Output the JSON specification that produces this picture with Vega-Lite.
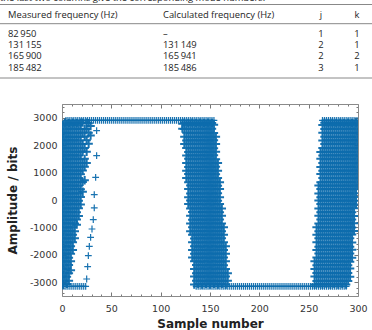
{
  "$schema": "https://vega.github.io/schema/vega-lite/v6.json",
  "width": 296,
  "height": 192,
  "autosize": {"type": "none"},
  "padding": {"left": 62, "top": 104, "right": 14, "bottom": 34},
  "background": "white",
  "config": {"view": {"stroke": null}},
  "resolve": {"scale": {"x": "independent", "y": "independent"}, "axis": {"x": "independent", "y": "independent"}},
  "layer": [
    {
      "resolve": {"axis": {"x": "independent", "y": "independent"}},
      "layer": [
        {
          "data": {"values": [
            {"x": 1, "y": [-3080,-2790,-2520,-2230,-1960,-1690,-1400,-1130,-850,-580,-300,-30,250,520,800,1070,1350,1620,1900,2170,2450,2730]},
            {"x": 3, "y": [-2950,-2660,-2380,-2100,-1820,-1540,-1270,-990,-720,-440,-160,110,390,660,940,1210,1490,1760,2040,2310,2590,2820]},
            {"x": 5, "y": [-3060,-2800,-2500,-2250,-1950,-1700,-1390,-1140,-860,-570,-310,-20,240,530,790,1080,1340,1630,1890,2180,2440,2740]},
            {"x": 7, "y": [-2940,-2670,-2370,-2110,-1810,-1550,-1260,-1000,-710,-450,-150,100,400,650,950,1200,1500,1750,2050,2300,2600,2810]},
            {"x": 9, "y": [-2560,-2230,-1960,-1690,-1400,-1130,-850,-580,-300,-30,250,520,800,1070,1350,1620,1900,2170,2450,2730]},
            {"x": 11, "y": [-1820,-1540,-1270,-990,-720,-440,-160,110,390,660,940,1210,1490,1760,2040,2310,2590,2820]},
            {"x": 13, "y": [-1390,-1140,-860,-570,-310,-20,240,530,790,1080,1340,1630,1890,2180,2440,2740]},
            {"x": 15, "y": [-900,-710,-450,-150,100,400,650,950,1200,1500,1750,2050,2300,2600,2810]},
            {"x": 17, "y": [-580,-300,-30,250,520,800,1070,1350,1620,1900,2170,2450,2730]},
            {"x": 19, "y": [-160,110,390,660,940,1210,1490,1760,2040,2310,2590,2820]},
            {"x": 21, "y": [300,660,1080,1350,1760,2040,2450,2820]},
            {"x": 23, "y": [720,1210,1500,1900,2310,2600]},
            {"x": 25, "y": [1350,1760,2180,2590,2820]},
            {"x": 27, "y": [2050,2450,2800]},
            {"x": 29, "y": [2350,2700]},
            {"x": 122, "y": [2600,2780]},
            {"x": 124, "y": [2040,2310,2590,2820]},
            {"x": 126, "y": [800,1070,1350,1620,1900,2170,2450,2730]},
            {"x": 128, "y": [-150,100,400,650,950,1200,1500,1750,2050,2300,2600,2810]},
            {"x": 130, "y": [-1140,-860,-570,-310,-20,240,530,790,1080,1340,1630,1890,2180,2440,2740]},
            {"x": 132, "y": [-2100,-1820,-1540,-1270,-990,-720,-440,-160,110,390,660,940,1210,1490,1760,2040,2310,2590,2820]},
            {"x": 134, "y": [-3080,-2790,-2520,-2230,-1960,-1690,-1400,-1130,-850,-580,-300,-30,250,520,800,1070,1350,1620,1900,2170,2450,2730]},
            {"x": 136, "y": [-2940,-2670,-2370,-2110,-1810,-1550,-1260,-1000,-710,-450,-150,100,400,650,950,1200,1500,1750,2050,2300,2600,2810]},
            {"x": 138, "y": [-3060,-2800,-2500,-2250,-1950,-1700,-1390,-1140,-860,-570,-310,-20,240,530,790,1080,1340,1630,1890,2180,2440,2740]},
            {"x": 140, "y": [-2950,-2660,-2380,-2100,-1820,-1540,-1270,-990,-720,-440,-160,110,390,660,940,1210,1490,1760,2040,2310,2590,2820]},
            {"x": 142, "y": [-3080,-2790,-2520,-2230,-1960,-1690,-1400,-1130,-850,-580,-300,-30,250,520,800,1070,1350,1620,1900,2170,2450,2730]},
            {"x": 144, "y": [-2940,-2670,-2370,-2110,-1810,-1550,-1260,-1000,-710,-450,-150,100,400,650,950,1200,1500,1750,2050,2300,2600,2810]},
            {"x": 146, "y": [-3060,-2800,-2500,-2250,-1950,-1700,-1390,-1140,-860,-570,-310,-20,240,530,790,1080,1340,1630,1890,2180,2440,2740]},
            {"x": 148, "y": [-2950,-2660,-2380,-2100,-1820,-1540,-1270,-990,-720,-440,-160,110,390,660,940,1210,1490,1760,2040,2310,2590,2820]},
            {"x": 150, "y": [-3080,-2790,-2520,-2230,-1960,-1690,-1400,-1130,-850,-580,-300,-30,250,520,800,1070,1350,1620,1900,2170,2450,2730]},
            {"x": 152, "y": [-2940,-2670,-2370,-2110,-1810,-1550,-1260,-1000,-710,-450,-150,100,400,650,950,1200,1500,1750,2050,2300,2600,2810]},
            {"x": 154, "y": [-3060,-2800,-2500,-2250,-1950,-1700,-1390,-1140,-860,-570,-310,-20,240,530,790,1080,1340,1630,1890,2180,2440,2740]},
            {"x": 156, "y": [-2950,-2660,-2380,-2100,-1820,-1540,-1270,-990,-720,-440,-160,110,390,660,940,1210,1490,1760,2040,2310]},
            {"x": 158, "y": [-3080,-2790,-2520,-2230,-1960,-1690,-1400,-1130,-850,-580,-300,-30,250,520,800,1070,1350]},
            {"x": 160, "y": [-2940,-2670,-2370,-2110,-1810,-1550,-1260,-1000,-710,-450,-150,100,400,650]},
            {"x": 162, "y": [-3060,-2800,-2500,-2250,-1950,-1700,-1390,-1140,-860,-570,-310]},
            {"x": 164, "y": [-2950,-2660,-2380,-2100,-1820,-1540,-1270,-990]},
            {"x": 166, "y": [-3080,-2790,-2520,-2230,-1960,-1690]},
            {"x": 168, "y": [-2940,-2670]},
            {"x": 256, "y": [-3080,-2790,-2520,-2230]},
            {"x": 258, "y": [-2950,-2660,-2380,-2100,-1820,-1540,-1270,-990]},
            {"x": 260, "y": [-3060,-2800,-2500,-2250,-1950,-1700,-1390,-1140,-860,-570,-310,-20,240,530]},
            {"x": 262, "y": [-2940,-2670,-2370,-2110,-1810,-1550,-1260,-1000,-710,-450,-150,100,400,650,950,1200,1500,1750]},
            {"x": 264, "y": [-3080,-2790,-2520,-2230,-1960,-1690,-1400,-1130,-850,-580,-300,-30,250,520,800,1070,1350,1620,1900,2170,2450,2730]},
            {"x": 266, "y": [-2950,-2660,-2380,-2100,-1820,-1540,-1270,-990,-720,-440,-160,110,390,660,940,1210,1490,1760,2040,2310,2590,2820]},
            {"x": 268, "y": [-3060,-2800,-2500,-2250,-1950,-1700,-1390,-1140,-860,-570,-310,-20,240,530,790,1080,1340,1630,1890,2180,2440,2740]},
            {"x": 270, "y": [-2940,-2670,-2370,-2110,-1810,-1550,-1260,-1000,-710,-450,-150,100,400,650,950,1200,1500,1750,2050,2300,2600,2810]},
            {"x": 272, "y": [-3080,-2790,-2520,-2230,-1960,-1690,-1400,-1130,-850,-580,-300,-30,250,520,800,1070,1350,1620,1900,2170,2450,2730]},
            {"x": 274, "y": [-2950,-2660,-2380,-2100,-1820,-1540,-1270,-990,-720,-440,-160,110,390,660,940,1210,1490,1760,2040,2310,2590,2820]},
            {"x": 276, "y": [-3060,-2800,-2500,-2250,-1950,-1700,-1390,-1140,-860,-570,-310,-20,240,530,790,1080,1340,1630,1890,2180,2440,2740]},
            {"x": 278, "y": [-2940,-2670,-2370,-2110,-1810,-1550,-1260,-1000,-710,-450,-150,100,400,650,950,1200,1500,1750,2050,2300,2600,2810]},
            {"x": 280, "y": [-3080,-2790,-2520,-2230,-1960,-1690,-1400,-1130,-850,-580,-300,-30,250,520,800,1070,1350,1620,1900,2170,2450,2730]},
            {"x": 282, "y": [-2950,-2660,-2380,-2100,-1820,-1540,-1270,-990,-720,-440,-160,110,390,660,940,1210,1490,1760,2040,2310,2590,2820]},
            {"x": 284, "y": [-3060,-2800,-2500,-2250,-1950,-1700,-1390,-1140,-860,-570,-310,-20,240,530,790,1080,1340,1630,1890,2180,2440,2740]},
            {"x": 286, "y": [-2940,-2670,-2370,-2110,-1810,-1550,-1260,-1000,-710,-450,-150,100,400,650,950,1200,1500,1750,2050,2300,2600,2810]},
            {"x": 288, "y": [-3080,-2790,-2520,-2230,-1960,-1690,-1400,-1130,-850,-580,-300,-30,250,520,800,1070,1350,1620,1900,2170,2450,2730]},
            {"x": 290, "y": [-2950,-2660,-2380,-2100,-1820,-1540,-1270,-990,-720,-440,-160,110,390,660,940,1210,1490,1760,2040,2310,2590,2820]},
            {"x": 292, "y": [-2800,-2500,-2250,-1950,-1700,-1390,-1140,-860,-570,-310,-20,240,530,790,1080,1340,1630,1890,2180,2440,2740]},
            {"x": 294, "y": [-2110,-1810,-1550,-1260,-1000,-710,-450,-150,100,400,650,950,1200,1500,1750,2050,2300,2600,2810]},
            {"x": 296, "y": [-1130,-850,-580,-300,-30,250,520,800,1070,1350,1620,1900,2170,2450,2730]},
            {"x": 298, "y": [-160,110,390,660,940,1210,1490,1760,2040,2310,2590,2820]},
            {"x": 300, "y": [530,790,1080,1340,1630,1890,2180,2440,2740]}
          ]},
          "transform": [{"flatten": ["y"]}],
          "mark": {"type": "point", "shape": "M-1,0H1M0,-1V1", "filled": false, "size": 70, "strokeWidth": 2, "stroke": "#0d6cad", "opacity": 0.95, "clip": true},
          "encoding": {
            "x": {
              "field": "x", "type": "quantitative",
              "scale": {"domain": [0, 300], "nice": false, "zero": false},
              "axis": {
                "orient": "bottom",
                "values": [0,10,20,30,40,50,60,70,80,90,100,110,120,130,140,150,160,170,180,190,200,210,220,230,240,250,260,270,280,290,300],
                "labelExpr": "datum.value % 50 === 0 ? '' + datum.value : ''",
                "tickSize": {"condition": {"test": "datum.value % 50 === 0", "value": -4}, "value": -2},
                "tickColor": "#777", "domainColor": "#8a8a8a", "grid": false,
                "labelFlush": false, "labelOverlap": false, "labelPadding": 11,
                "labelFont": "DejaVu Sans", "labelFontSize": 9.5, "labelColor": "#333",
                "title": "Sample number", "titleFont": "DejaVu Sans", "titleFontSize": 12, "titleFontWeight": "bold", "titleColor": "#222", "titlePadding": 4
              }
            },
            "y": {
              "field": "y", "type": "quantitative",
              "scale": {"domain": [-3500, 3500], "nice": false, "zero": false},
              "axis": {
                "orient": "left",
                "values": [-3400,-3200,-3000,-2800,-2600,-2400,-2200,-2000,-1800,-1600,-1400,-1200,-1000,-800,-600,-400,-200,0,200,400,600,800,1000,1200,1400,1600,1800,2000,2200,2400,2600,2800,3000,3200,3400],
                "labelExpr": "datum.value % 1000 === 0 ? '' + datum.value : ''",
                "tickSize": {"condition": {"test": "datum.value % 1000 === 0", "value": -4}, "value": -2},
                "tickColor": "#777", "domainColor": "#8a8a8a", "grid": false,
                "labelFlush": false, "labelOverlap": false, "labelPadding": 9,
                "labelFont": "DejaVu Sans", "labelFontSize": 9.5, "labelColor": "#333",
                "title": "Amplitude / bits", "titleFont": "DejaVu Sans", "titleFontSize": 12, "titleFontWeight": "bold", "titleColor": "#222", "titlePadding": 10
              }
            }
          }
        },
        {
          "data": {"values": [
            {"y": 2900, "x": [4,6,8,10,12,14,16,18,20,22,24,26,28,30,32,34,36,38,40,42,44,46,48,50,52,54,56,58,60,62,64,66,68,70,72,74,76,78,80,82,84,86,88,90,92,94,96,98,100,102,104,106,108,110,112,114,116,118,120,122,124,126,128,130,132,134,136,138,140,142,144,146,148,150,152,154]},
            {"y": 2900, "x": [264,266,268,270,272,274,276,278,280,282,284,286,288,290,292,294,296,298,300]},
            {"y": -3150, "x": [0,2,4,6,8,10,12,14,16,18,20,22,24]},
            {"y": -3150, "x": [136,138,140,142,144,146,148,150,152,154,156,158,160,162,164,166,168,170,172,174,176,178,180,182,184,186,188,190,192,194,196,198,200,202,204,206,208,210,212,214,216,218,220,222,224,226,228,230,232,234,236,238,240,242,244,246,248,250,252,254,256,258,260,262,264,266,268,270,272,274,276,278,280,282,284,286,288]},
            {"y": -2880, "x": [25]},
            {"y": -2430, "x": [26]},
            {"y": -2030, "x": [26.7]},
            {"y": -1690, "x": [27.7]},
            {"y": -1360, "x": [29]},
            {"y": -1057, "x": [30.4]},
            {"y": -717, "x": [31.7]},
            {"y": -290, "x": [32.7]},
            {"y": 193, "x": [32.7]},
            {"y": 827, "x": [34.1]},
            {"y": 1615, "x": [35.1]},
            {"y": 2527, "x": [35.1]}
          ]},
          "transform": [{"flatten": ["x"]}],
          "mark": {"type": "point", "shape": "M-1,0H1M0,-1V1", "filled": false, "size": 46, "strokeWidth": 1.2, "stroke": "#0d6cad", "opacity": 0.95, "clip": true},
          "encoding": {
            "x": {
              "field": "x", "type": "quantitative",
              "scale": {"domain": [0, 300], "nice": false, "zero": false},
              "axis": {
                "orient": "top",
                "values": [0,10,20,30,40,50,60,70,80,90,100,110,120,130,140,150,160,170,180,190,200,210,220,230,240,250,260,270,280,290,300],
                "labels": false, "title": null, "grid": false,
                "tickSize": {"condition": {"test": "datum.value % 50 === 0", "value": -4}, "value": -2},
                "tickColor": "#777", "domainColor": "#8a8a8a"
              }
            },
            "y": {
              "field": "y", "type": "quantitative",
              "scale": {"domain": [-3500, 3500], "nice": false, "zero": false},
              "axis": {
                "orient": "right",
                "values": [-3400,-3200,-3000,-2800,-2600,-2400,-2200,-2000,-1800,-1600,-1400,-1200,-1000,-800,-600,-400,-200,0,200,400,600,800,1000,1200,1400,1600,1800,2000,2200,2400,2600,2800,3000,3200,3400],
                "labels": false, "title": null, "grid": false,
                "tickSize": {"condition": {"test": "datum.value % 1000 === 0", "value": -4}, "value": -2},
                "tickColor": "#777", "domainColor": "#8a8a8a"
              }
            }
          }
        }
      ]
    },
    {
      "data": {"values": [
        {"row": 0, "col": 0, "t": "the last two columns give the corresponding mode numbers."},
        {"row": 2, "col": 1, "t": "Measured frequency (Hz)"},
        {"row": 2, "col": 2, "t": "Calculated frequency (Hz)"},
        {"row": 2, "col": 3, "t": "j"},
        {"row": 2, "col": 4, "t": "k"},
        {"row": 4, "col": 1, "t": "\u200782\u2009950"},
        {"row": 4, "col": 2, "t": "–"},
        {"row": 4, "col": 3, "t": "1"},
        {"row": 4, "col": 4, "t": "1"},
        {"row": 5, "col": 1, "t": "131\u2009155"},
        {"row": 5, "col": 2, "t": "131\u2009149"},
        {"row": 5, "col": 3, "t": "2"},
        {"row": 5, "col": 4, "t": "1"},
        {"row": 6, "col": 1, "t": "165\u2009900"},
        {"row": 6, "col": 2, "t": "165\u2009941"},
        {"row": 6, "col": 3, "t": "2"},
        {"row": 6, "col": 4, "t": "2"},
        {"row": 7, "col": 1, "t": "185\u2009482"},
        {"row": 7, "col": 2, "t": "185\u2009486"},
        {"row": 7, "col": 3, "t": "3"},
        {"row": 7, "col": 4, "t": "1"},
        {"row": 1, "rule": true},
        {"row": 3, "rule": true},
        {"row": 8, "rule": true}
      ]},
      "layer": [
        {
          "transform": [{"filter": "!datum.rule && datum.col < 3"}],
          "mark": {"type": "text", "align": "left", "baseline": "alphabetic", "font": "Open Sans", "fontSize": 9.4, "color": "#1e1e1e"},
          "encoding": {
            "x": {"field": "col", "type": "quantitative", "axis": null, "scale": {"domain": [0,1,2,3,4,5], "range": [-62,-54,101,259,295,310], "nice": false, "zero": false}},
            "y": {"field": "row", "type": "quantitative", "axis": null, "scale": {"domain": [0,1,2,3,4,5,6,7,8], "range": [-103,-99.5,-85.6,-80.3,-67.3,-55.9,-44.9,-33.4,-26], "nice": false, "zero": false}},
            "text": {"field": "t"}
          }
        },
        {
          "transform": [{"filter": "!datum.rule && datum.col >= 3"}],
          "mark": {"type": "text", "align": "center", "baseline": "alphabetic", "font": "Open Sans", "fontSize": 9.4, "color": "#1e1e1e"},
          "encoding": {
            "x": {"field": "col", "type": "quantitative", "axis": null},
            "y": {"field": "row", "type": "quantitative", "axis": null},
            "text": {"field": "t"}
          }
        },
        {
          "transform": [{"filter": "datum.rule"}],
          "mark": {"type": "rule", "color": "#888", "strokeWidth": 1},
          "encoding": {
            "x": {"datum": 0, "type": "quantitative", "axis": null},
            "x2": {"datum": 5},
            "y": {"field": "row", "type": "quantitative", "axis": null}
          }
        }
      ]
    }
  ]
}
